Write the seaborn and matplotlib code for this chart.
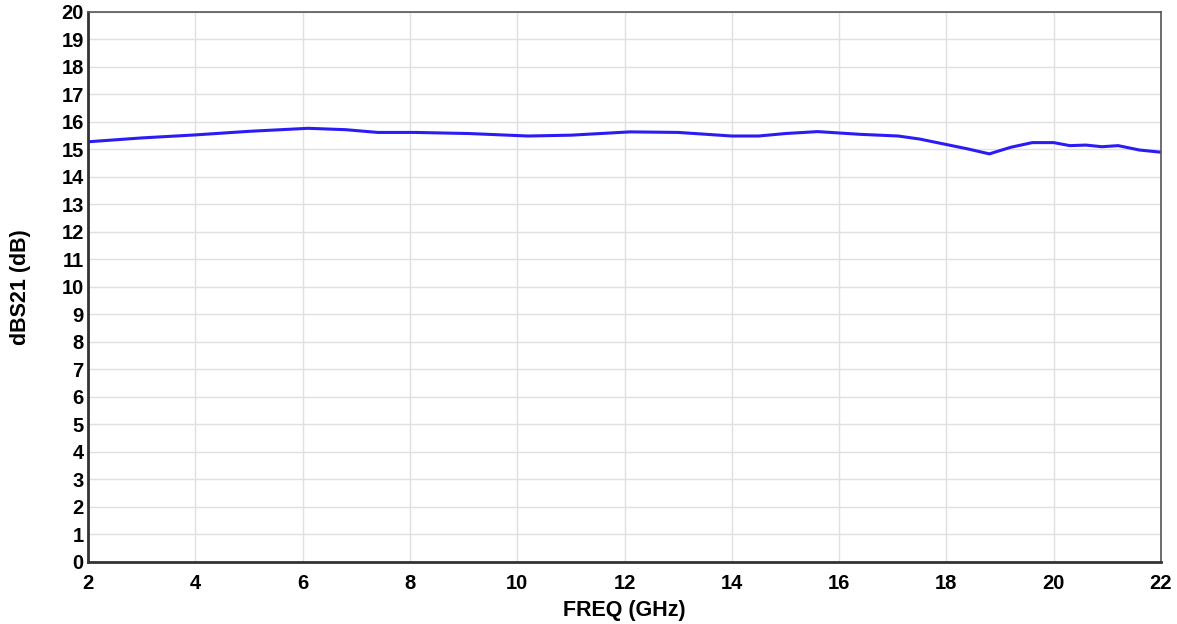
import pandas as pd
import matplotlib
matplotlib.use("Agg")
import matplotlib.pyplot as plt
import seaborn as sns

# values
freq = [2.0, 3.0, 4.0, 5.0, 6.1, 6.8, 7.4, 8.1, 9.1, 10.2, 11.0, 12.1, 13.0,
        14.0, 14.5, 15.0, 15.6, 16.4, 17.1, 17.5, 17.9, 18.4, 18.8, 19.2,
        19.6, 20.0, 20.3, 20.6, 20.9, 21.2, 21.6, 22.0]
s21 = [15.28, 15.42, 15.53, 15.66, 15.77, 15.72, 15.62, 15.62, 15.58, 15.49,
       15.52, 15.64, 15.62, 15.49, 15.49, 15.58, 15.65, 15.55, 15.49, 15.38,
       15.22, 15.02, 14.84, 15.08, 15.25, 15.25, 15.14, 15.16, 15.10, 15.14,
       14.98, 14.90]
xticks = list(range(2, 23, 2))
yticks = list(range(0, 21))

df = pd.DataFrame({"FREQ (GHz)": freq, "dBS21 (dB)": s21})

sns.set_style("white")
plt.rcParams["font.family"] = ["Liberation Sans", "DejaVu Sans"]

fig = plt.figure(figsize=(11.77, 6.24), dpi=100)
ax = fig.add_axes([0.0748, 0.0994, 0.9116, 0.8814])

sns.lineplot(data=df, x="FREQ (GHz)", y="dBS21 (dB)", ax=ax,
             color="#2b1cf5", linewidth=2.2)

ax.set_xlim(2, 22)
ax.set_ylim(0, 20)
ax.set_xticks(xticks)
ax.set_yticks(yticks)
ax.grid(True, color="#e0e0e0", linewidth=1)
ax.tick_params(length=0, labelsize=14.5, labelcolor="black")
ax.tick_params(axis="x", pad=9)
ax.tick_params(axis="y", pad=3)
for lab in ax.get_xticklabels() + ax.get_yticklabels():
    lab.set_fontweight("bold")
ax.set_xlabel("FREQ (GHz)", fontsize=15.5, fontweight="bold", labelpad=5,
              color="black")
ax.set_ylabel("dBS21 (dB)", fontsize=15.5, fontweight="bold", labelpad=22,
              color="black")
for side in ["left", "bottom"]:
    ax.spines[side].set_color("#333333")
    ax.spines[side].set_linewidth(2)
for side in ["top", "right"]:
    ax.spines[side].set_color("#555555")
    ax.spines[side].set_linewidth(1.2)

fig.savefig("out.png", dpi=100)
